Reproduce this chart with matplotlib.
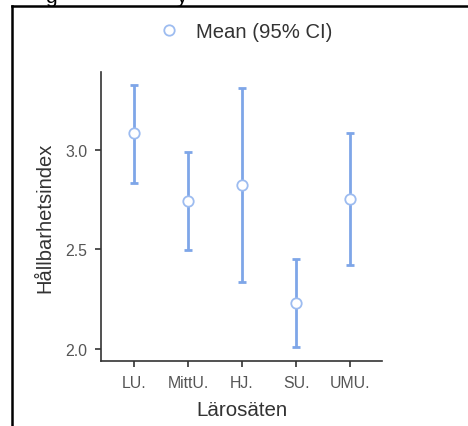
import numpy as np
import matplotlib
matplotlib.use("Agg")
import matplotlib.pyplot as plt
from matplotlib.lines import Line2D

plt.rcParams['font.family'] = ['Liberation Sans', 'DejaVu Sans']

# data
schools = ['LU.', 'MittU.', 'HJ.', 'SU.', 'UMU.']
means = [3.085, 2.744, 2.824, 2.231, 2.754]
ci_low = [2.834, 2.497, 2.337, 2.010, 2.420]
ci_high = [3.327, 2.990, 3.310, 2.452, 3.085]
yticks = [2.0, 2.5, 3.0]

bar_col = '#7ea6e8'
edge_col = '#9dbcf0'

fig = plt.figure(figsize=(4.68, 4.27), dpi=100)
ax = fig.add_axes([101/468, 1-362/427, 281/468, 289/427])

x = np.arange(len(schools))
m = np.array(means)
lo = m - np.array(ci_low)
hi = np.array(ci_high) - m
ax.errorbar(x, m, yerr=[lo, hi], fmt='none', ecolor=bar_col, elinewidth=2,
            capsize=3, capthick=2, zorder=2)
ax.plot(x, m, 'o', ms=7.5, mfc='white', mec=edge_col, mew=1.3, ls='none', zorder=3)

ax.set_xlim(-0.61, 4.59)
ax.set_ylim(1.94, 3.39)
ax.set_xticks(x)
ax.set_xticklabels(schools)
ax.set_yticks(yticks)
ax.set_yticklabels(['%.1f' % v for v in yticks])
for s in ['top', 'right']:
    ax.spines[s].set_visible(False)
for s in ['left', 'bottom']:
    ax.spines[s].set_color('#333333')
    ax.spines[s].set_linewidth(1.2)
ax.tick_params(length=4, width=1.2, color='#333333', labelcolor='#555555',
               labelsize=11.4, pad=6)
ax.set_ylabel('Hållbarhetsindex', fontsize=14.5, color='#333333', labelpad=8)
ax.set_xlabel('Lärosäten', fontsize=14.8, color='#333333', labelpad=7)

# legend at the top
h = Line2D([], [], marker='o', ls='none', ms=7.5, mfc='white', mec=edge_col, mew=1.3)
fig.legend([h], ['Mean (95% CI)'], loc='center', bbox_to_anchor=(0.514, 1-33/427),
           frameon=False, fontsize=14.6, labelcolor='#333333', handletextpad=0.3)

# outer frame (left and top edges only visible)
fig.add_artist(Line2D([12/468, 1], [1-7/427, 1-7/427], color='black', lw=1.8,
                      transform=fig.transFigure))
fig.add_artist(Line2D([12/468, 12/468], [0, 1-7/427], color='black', lw=1.8,
                      transform=fig.transFigure))
# cut-off heading above the frame
fig.text(45/468, 1-3/427, 'g', fontsize=15, color='black', va='baseline')
fig.text(176/468, 1-3/427, 'y', fontsize=15, color='black', va='baseline')

fig.savefig('out.png', dpi=100)
